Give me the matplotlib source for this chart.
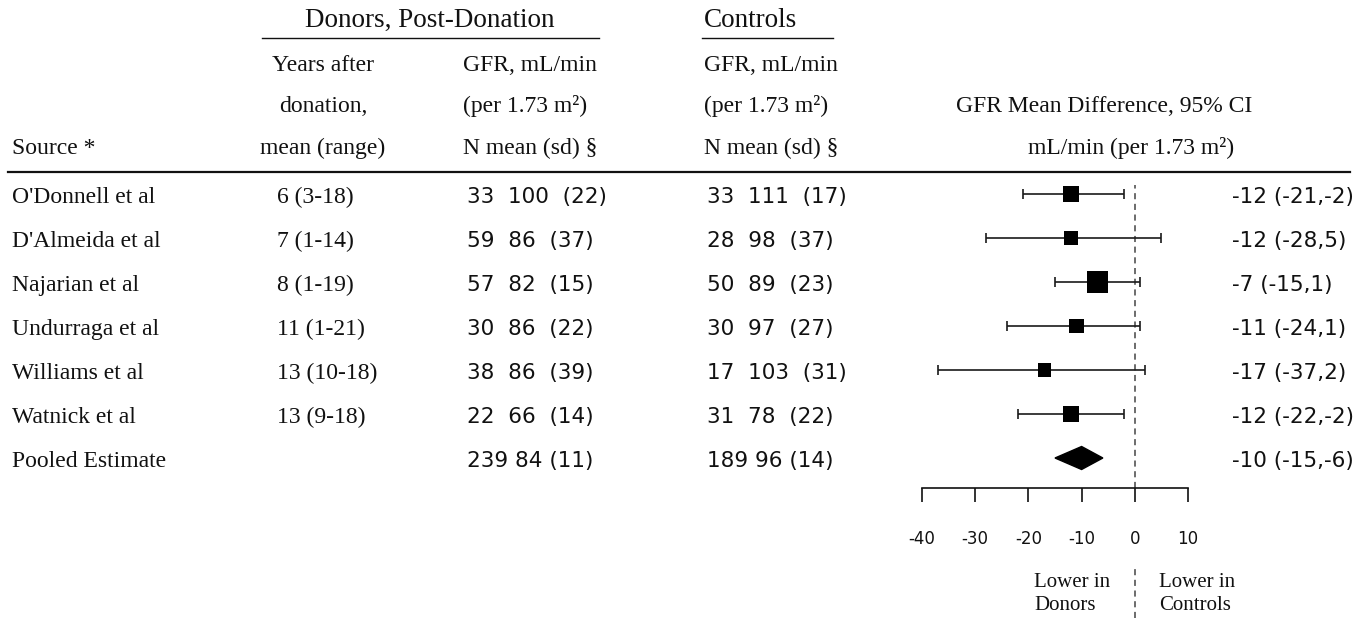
import numpy as np
import matplotlib
matplotlib.use("Agg")
import matplotlib.pyplot as plt
from matplotlib.patches import Polygon

plt.rcParams["axes.unicode_minus"] = False

# ---- study data ----
sources = ["O'Donnell et al", "D'Almeida et al", "Najarian et al",
           "Undurraga et al", "Williams et al", "Watnick et al"]
years_mean = [6, 7, 8, 11, 13, 13]
years_lo = [3, 1, 1, 1, 10, 9]
years_hi = [18, 14, 19, 21, 18, 18]

donor_n = [33, 59, 57, 30, 38, 22]
donor_gfr = [100, 86, 82, 86, 86, 66]
donor_sd = [22, 37, 15, 22, 39, 14]

ctrl_n = [33, 28, 50, 30, 17, 31]
ctrl_gfr = [111, 98, 89, 97, 103, 78]
ctrl_sd = [17, 37, 23, 27, 31, 22]

diff = [-12, -12, -7, -11, -17, -12]
ci_lo = [-21, -28, -15, -24, -37, -22]
ci_hi = [-2, 5, 1, 1, 2, -2]
weights = [17, 11, 30, 14, 11, 17]   # relative study weights (box area)

pooled_label = "Pooled Estimate"
pooled_donor = (239, 84, 11)
pooled_ctrl = (189, 96, 14)
pooled_diff, pooled_lo, pooled_hi = -10, -15, -6

x_ticks = [-40, -30, -20, -10, 0, 10]

# ---- layout (pixel grid of the canvas) ----
W, H = 1367, 618
SERIF = "Liberation Serif"
SANS = "DejaVu Sans"
BODY = 17
HEAD = 19.5
NUM = 15.5
INK = "#111111"

fig = plt.figure(figsize=(W / 100, H / 100), dpi=100)
bg = fig.add_axes([0, 0, 1, 1])
bg.set_xlim(0, W)
bg.set_ylim(H, 0)
bg.axis("off")


def txt(x, y, s, size=BODY, family=SERIF, ha="left"):
    bg.text(x, y, s, fontsize=size, family=family, ha=ha, va="baseline",
            color=INK)


# column headers
txt(430, 27, "Donors, Post-Donation", size=HEAD, ha="center")
bg.plot([262, 599], [38, 38], color=INK, lw=1.0)
txt(704, 27, "Controls", size=HEAD)
bg.plot([702, 833], [38, 38], color=INK, lw=1.0)

txt(323, 71, "Years after", ha="center")
txt(323, 112, "donation,", ha="center")
txt(323, 154, "mean (range)", ha="center")
for x0 in (463, 704):
    txt(x0, 71, "GFR, mL/min")
    txt(x0, 112, "(per 1.73 m²)")
    txt(x0, 154, "N mean (sd) §")
txt(12, 154, "Source *")
txt(1104, 112, "GFR Mean Difference, 95% CI", ha="center")
txt(1131, 154, "mL/min (per 1.73 m²)", ha="center")

bg.plot([8, 1350], [172, 172], color=INK, lw=1.6)

# table rows
ROW0, STEP = 194, 44
for i, name in enumerate(sources):
    yb = ROW0 + STEP * i + 9
    txt(12, yb, name)
    txt(277, yb, f"{years_mean[i]} ({years_lo[i]}-{years_hi[i]})")
    txt(467, yb, f"{donor_n[i]}  {donor_gfr[i]}  ({donor_sd[i]})",
        size=NUM, family=SANS)
    txt(707, yb, f"{ctrl_n[i]}  {ctrl_gfr[i]}  ({ctrl_sd[i]})",
        size=NUM, family=SANS)
    txt(1232, yb, f"{diff[i]} ({ci_lo[i]},{ci_hi[i]})", size=NUM,
        family=SANS)

yb = ROW0 + STEP * len(sources) + 9
txt(12, yb, pooled_label)
txt(467, yb, "{} {} ({})".format(*pooled_donor), size=NUM, family=SANS)
txt(707, yb, "{} {} ({})".format(*pooled_ctrl), size=NUM, family=SANS)
txt(1232, yb, f"{pooled_diff} ({pooled_lo},{pooled_hi})", size=NUM,
    family=SANS)

txt(1034, 587, "Lower in", size=15)
txt(1034, 610, "Donors", size=15)
txt(1159, 587, "Lower in", size=15)
txt(1159, 610, "Controls", size=15)

# ---- forest plot panel ----
px_left, px_right, px_top, px_bot = 922, 1188, 175, 488
ax = fig.add_axes([px_left / W, 1 - px_bot / H,
                   (px_right - px_left) / W, (px_bot - px_top) / H])
ax.patch.set_visible(False)
ax.set_xlim(x_ticks[0], x_ticks[-1])
ax.set_ylim((px_bot - ROW0) / STEP, (px_top - ROW0) / STEP)
for side in ("top", "left", "right"):
    ax.spines[side].set_visible(False)
ax.spines["bottom"].set_linewidth(1.2)
ax.spines["bottom"].set_color(INK)
ax.set_yticks([])
ax.set_xticks(x_ticks)
ax.set_xticklabels([str(t) for t in x_ticks])
ax.tick_params(axis="x", direction="out", length=10, width=1.2, pad=20,
               labelsize=12, colors=INK)
for lab in ax.get_xticklabels():
    lab.set_family(SANS)

rows = np.arange(len(sources))
d = np.array(diff)
ax.errorbar(d, rows, xerr=[d - np.array(ci_lo), np.array(ci_hi) - d],
            fmt="none", ecolor="#1a1a1a", elinewidth=1.2, capsize=3.5,
            capthick=1.2, zorder=2)
side_px = 3.95 * np.sqrt(np.array(weights))
ax.scatter(d, rows, marker="s", s=(side_px * 0.72) ** 2, color="black",
           linewidths=0, zorder=3)

yp = len(sources)
half_h = 11.5 / STEP
ax.add_patch(Polygon([(pooled_lo, yp), (pooled_diff, yp - half_h),
                      (pooled_hi, yp), (pooled_diff, yp + half_h)],
                     closed=True, color="black", zorder=3))

# reference line at zero difference
ax.axvline(0, ymin=0.0, ymax=0.968, color="#444444", lw=1.1,
           ls=(0, (4, 3)), zorder=1)
ax.axvline(0, ymin=-0.415, ymax=-0.252, color="#444444", lw=1.1,
           ls=(0, (4, 3)), clip_on=False, zorder=1)

fig.savefig("out.png", dpi=100, facecolor="white")
